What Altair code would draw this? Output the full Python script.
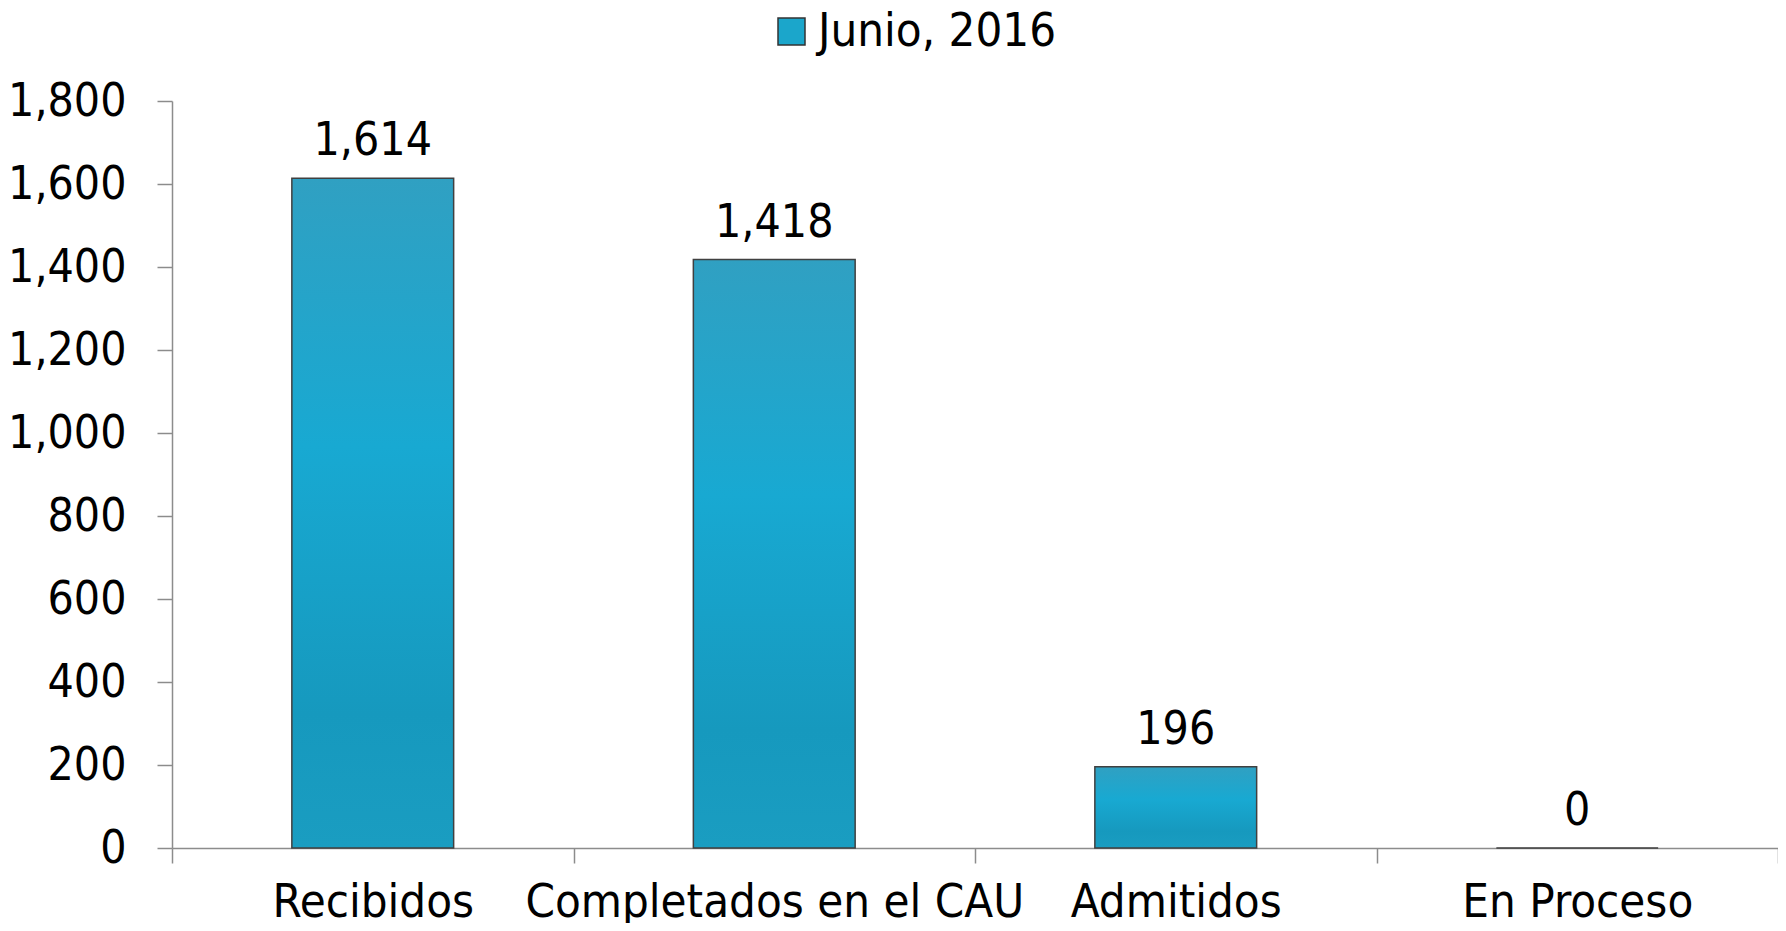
import altair as alt
import pandas as pd

categorias = ["Recibidos", "Completados en el CAU", "Admitidos", "En Proceso"]
valores = [1614, 1418, 196, 0]
serie = "Junio, 2016"
y_ticks = [0, 200, 400, 600, 800, 1000, 1200, 1400, 1600, 1800]

df = pd.DataFrame({"categoria": categorias, "valor": valores, "serie": [serie] * len(categorias)})

FONT = "DejaVu Sans Condensed, DejaVu Sans"
FS_Y = 46
FS_X = 47

x_enc = alt.X(
    "categoria:N",
    sort=categorias,
    title=None,
    scale=alt.Scale(paddingInner=0, paddingOuter=0),
    axis=alt.Axis(
        labelAngle=0,
        tickBand="extent",
        labelPadding=16,
        labelFontSize=FS_X,
        labelFont=FONT,
        labelColor="#000000",
        labelLimit=0,
    ),
)
y_enc = alt.Y(
    "valor:Q",
    title=None,
    scale=alt.Scale(domain=[0, 1800], nice=False),
    axis=alt.Axis(
        values=y_ticks,
        format=",d",
        grid=False,
        labelPadding=31,
        labelFontSize=FS_Y,
        labelFont=FONT,
        labelColor="#000000",
        labelLimit=0,
    ),
)

grad = alt.LinearGradient(
    gradient="linear",
    x1=0, x2=0, y1=0, y2=1,
    stops=[
        alt.GradientStop(offset=0, color="#30a0c2"),
        alt.GradientStop(offset=0.4, color="#18a9d2"),
        alt.GradientStop(offset=0.8, color="#1699be"),
        alt.GradientStop(offset=1, color="#1a9dc1"),
    ],
)

BAR_W = alt.RelativeBandSize(0.403)

bars = alt.Chart(df).mark_bar(
    fill=grad, stroke="#404040", strokeWidth=1.5, width=BAR_W
).encode(x=x_enc, y=y_enc)

legend_layer = alt.Chart(df).mark_bar(opacity=0, width=BAR_W).encode(
    x=x_enc,
    y=y_enc,
    color=alt.Color(
        "serie:N",
        scale=alt.Scale(range=["#1ba6cb"]),
        legend=alt.Legend(
            title=None,
            orient="none",
            legendX=596,
            legendY=-93,
            symbolType="square",
            symbolSize=729,
            symbolOpacity=1,
            symbolStrokeColor="#333333",
            symbolStrokeWidth=1.5,
            labelFontSize=FS_X,
            labelFont=FONT,
            labelColor="#000000",
            labelOffset=3,
            labelLimit=0,
            padding=0,
        ),
    ),
)

labels = alt.Chart(df).mark_text(
    dy=-23, baseline="alphabetic", fontSize=FS_Y, font=FONT, color="#000000"
).encode(x=x_enc, y=y_enc, text=alt.Text("valor:Q", format=",d"))

chart = (
    alt.layer(bars, legend_layer, labels)
    .properties(
        width=1606,
        height=747,
        autosize=alt.AutoSizeParams(type="none"),
        padding={"left": 164, "top": 93, "right": 0, "bottom": 75},
    )
    .configure_view(stroke=None)
    .configure_axis(
        domainColor="#8c8c8c",
        domainWidth=1.5,
        tickColor="#8c8c8c",
        tickWidth=1.5,
        tickSize=15,
    )
)

chart.save("out.html", embed_options={"renderer": "svg", "actions": False})
